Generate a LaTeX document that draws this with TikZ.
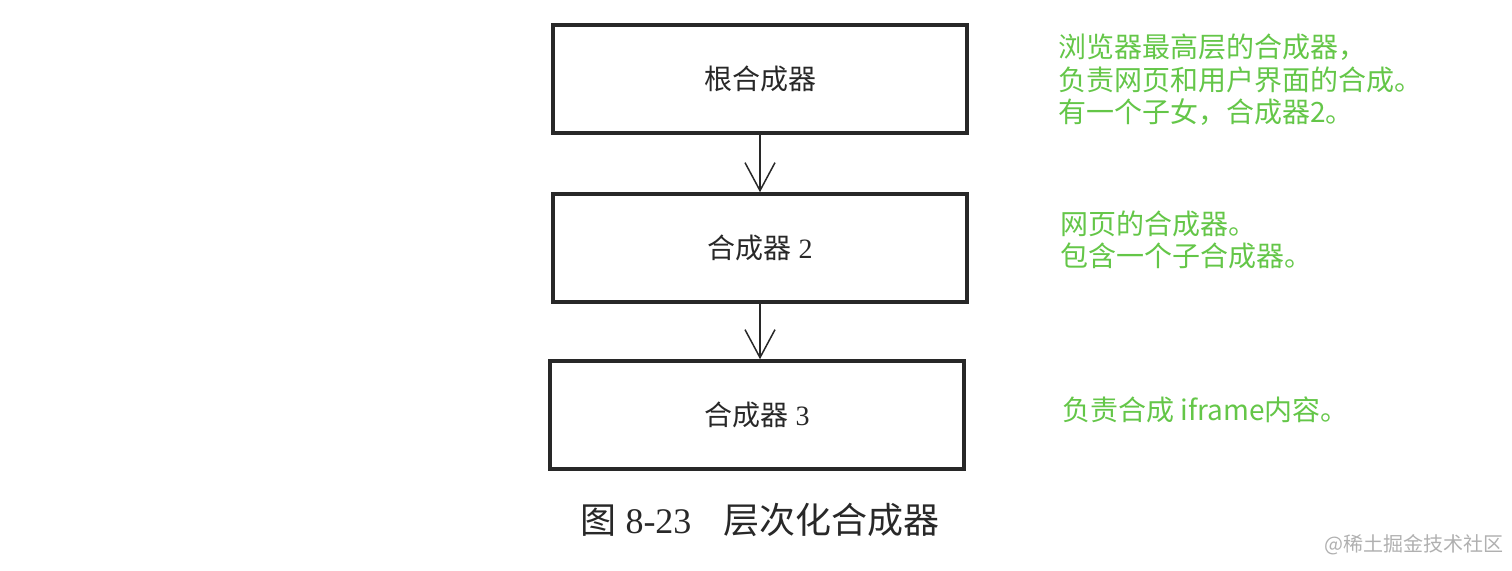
\documentclass[tikz,border=0pt]{standalone}
\usepackage{fontspec}
\setmainfont{Liberation Serif}
\newfontfamily\cjk{Noto Sans CJK SC}
\usetikzlibrary{arrows.meta, positioning}
\definecolor{notegreen}{RGB}{100,198,72}
\definecolor{markgray}{RGB}{176,176,176}
\definecolor{inkgray}{RGB}{40,40,40}

\begin{document}
\begin{tikzpicture}[x=0.5pt, y=-0.5pt,
    layer/.style={draw=inkgray, line width=1.8pt, minimum width=207pt, minimum height=54pt,
                  inner sep=0pt, text=inkgray, font=\fontsize{14}{16}\selectfont},
    note/.style={anchor=west, align=left, text=notegreen, inner sep=0pt,
                 font=\cjk\fontsize{14}{16.3}\selectfont},
    link/.style={draw=inkgray, -{Straight Barb[length=14pt, width=15pt]}, line width=0.75pt}]
    \useasboundingbox (0,0) rectangle (1512,570);
    % layer boxes
    \node[layer] (root) at (760,79) {{\cjk 根合成器}};
    \node[layer] (comp2) at (760,248) {{\cjk 合成器} 2};
    \node[layer] (comp3) at (757,415) {{\cjk 合成器} 3};
    \draw[link] (root) -- (comp2);
    \draw[link] (comp2.south) -- (comp2.south |- comp3.north);
    % notes
    \node[note] (rootnote) at (1058,80) {浏览器最高层的合成器，\\负责网页和用户界面的合成。\\有一个子女，合成器2。};
    \node[note] (comp2note) at (1060,240) {网页的合成器。\\包含一个子合成器。};
    \node[note] (comp3note) at (1062,410) {负责合成 iframe内容。};
    % caption
    \node[text=inkgray, font=\fontsize{18}{21}\selectfont] (caption) at (760,520)
      {{\cjk 图} 8-23\hspace{16pt}{\cjk 层次化合成器}};
    \node[text=markgray, font=\cjk\fontsize{10}{12}\selectfont] (mark) at (1414,545) {@稀土掘金技术社区};
\end{tikzpicture}
\end{document}
